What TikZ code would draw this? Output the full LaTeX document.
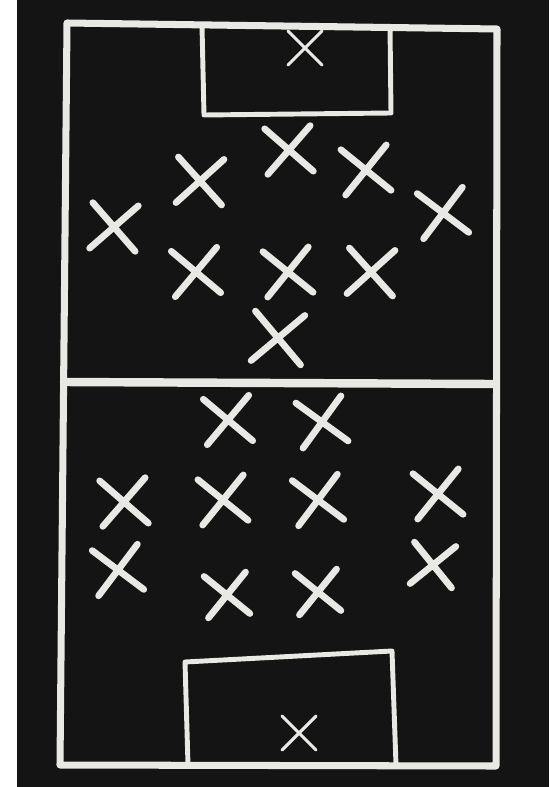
\documentclass[tikz,border=0pt]{standalone}
\usepackage{tikz}
\usepackage{xcolor}
\usetikzlibrary{shapes.misc}

\definecolor{board}{RGB}{20,20,20}
\definecolor{chalk}{RGB}{232,232,228}

\begin{document}
\begin{tikzpicture}[
  x=0.02cm, y=-0.02cm,
  line/.style={draw=chalk, line width=4pt, line cap=round, line join=round},
  box/.style={draw=chalk, line width=2.8pt, line cap=round, line join=round},
  player/.style={cross out, draw=chalk, line width=3.8pt, line cap=round, minimum size=0.78cm, inner sep=0pt},
  keeper/.style={cross out, draw=chalk, line width=1.8pt, line cap=round, minimum size=0.62cm, inner sep=0pt}
]
\useasboundingbox (0,0) rectangle (549,787);
\fill[white] (0,0) rectangle (549,787);
\fill[board] (17,0) rectangle (549,787);

% pitch
\coordinate (tl) at (67,23);
\coordinate (tr) at (497,29);
\coordinate (br) at (496,766);
\coordinate (bl) at (60,765);
\draw[line] (tl) -- (tr) -- (br) -- (bl) -- cycle;
\coordinate (hl) at (64,382);
\coordinate (hr) at (492,384);
\draw[line, line width=4.8pt] (hl) -- (hr);

% goal areas
\draw[box] (202,26) -- (204,115) -- (391,113) -- (390,27);
\draw[box] (188,765) -- (185,662) -- (392,651) -- (396,765);

% top team
\node[keeper] (gkTop) at (305,48) {};
\node[player, rotate=4] (t1) at (289,150) {};
\node[player, rotate=-3] (t2) at (200,181) {};
\node[player, rotate=6] (t3) at (366,170) {};
\node[player, rotate=-4] (t4) at (114,227) {};
\node[player, rotate=8] (t5) at (443,213) {};
\node[player, rotate=5] (t6) at (196,272) {};
\node[player, rotate=6] (t7) at (288,272) {};
\node[player, rotate=-3] (t8) at (371,272) {};
\node[player, rotate=-5, minimum size=0.86cm] (t9) at (278,338) {};

% bottom team
\node[player, rotate=5] (b1) at (228,420) {};
\node[player, rotate=9] (b2) at (322,422) {};
\node[player, rotate=4] (b3) at (124,502) {};
\node[player, rotate=6] (b4) at (223,500) {};
\node[player, rotate=8] (b5) at (318,500) {};
\node[player, rotate=6] (b6) at (438,494) {};
\node[player, rotate=8] (b7) at (118,570) {};
\node[player, rotate=6, minimum size=0.7cm] (b8) at (227,595) {};
\node[player, rotate=6, minimum size=0.7cm] (b9) at (318,592) {};
\node[player, rotate=-6, minimum size=0.7cm] (b10) at (433,565) {};
\node[keeper] (gkBot) at (299,733) {};
\end{tikzpicture}
\end{document}
